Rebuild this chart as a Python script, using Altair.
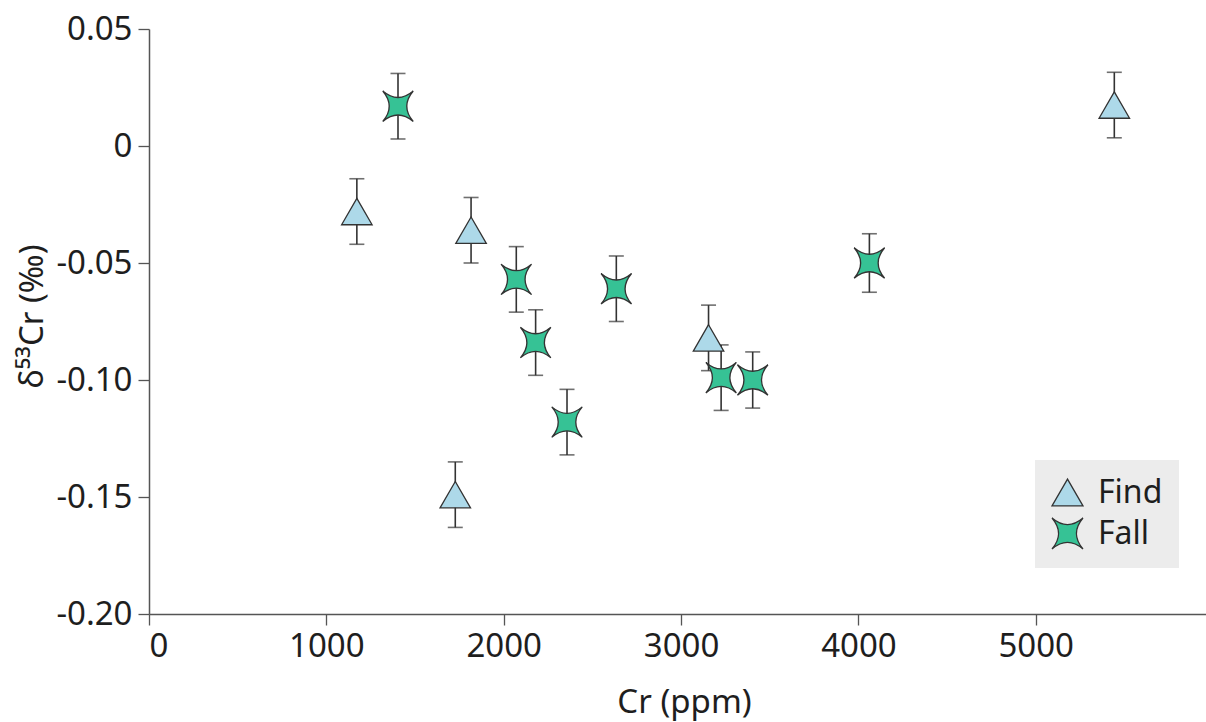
import altair as alt
import pandas as pd

# Cr concentration (ppm), δ53Cr (‰) and 2SE uncertainty for each meteorite group
find_cr = [1172, 1727, 1816, 3155, 5443]
find_d53 = [-0.028, -0.149, -0.036, -0.082, 0.0175]
find_err = [0.014, 0.014, 0.014, 0.014, 0.014]

fall_cr = [1404, 2071, 2180, 2357, 2635, 3226, 3404, 4062]
fall_d53 = [0.017, -0.057, -0.084, -0.118, -0.061, -0.099, -0.100, -0.050]
fall_err = [0.014, 0.014, 0.014, 0.014, 0.014, 0.014, 0.012, 0.0125]

groups = ["Find", "Fall"]

rows = []
for cr, d, e in zip(find_cr, find_d53, find_err):
    rows.append({"type": "Find", "cr": cr, "d53": d, "lo": d - e, "hi": d + e})
for cr, d, e in zip(fall_cr, fall_d53, fall_err):
    rows.append({"type": "Fall", "cr": cr, "d53": d, "lo": d - e, "hi": d + e})
df = pd.DataFrame(rows)

FONT = "Noto Sans"
AXIS_COL = "#555555"
TEXT_COL = "#1e1e1e"
BAR_COL = "#333333"
EDGE_COL = "#333333"

# four-pointed star with concave edges, tips on the diagonals
STAR = "M-1,-1 Q0,-0.15 1,-1 Q0.15,0 1,1 Q0,0.15 -1,1 Q-0.15,0 -1,-1 Z"

x_enc = alt.X(
    "cr:Q",
    scale=alt.Scale(domain=[0, 5960], nice=False, zero=False),
    axis=alt.Axis(
        title="Cr (ppm)",
        values=[0, 1000, 2000, 3000, 4000, 5000],
        format="d",
        grid=False,
        tickSize=11,
        labelPadding=5,
        titleY=98,
        titleX=535,
        titleBaseline="alphabetic",
    ),
)
y_enc = alt.Y(
    "d53:Q",
    scale=alt.Scale(domain=[-0.2, 0.05], nice=False, zero=False),
    axis=alt.Axis(
        title="δ⁵³Cr (‰)",
        values=[-0.2, -0.15, -0.1, -0.05, 0, 0.05],
        labelExpr="datum.value == 0 ? '0' : replace(format(datum.value, '.2f'), '\u2212', '-')",
        grid=False,
        tickSize=11,
        labelPadding=6,
        titleX=-107,
        titleY=287,
        titleAngle=270,
        titleAlign="center",
        titleBaseline="alphabetic",
    ),
)

base = alt.Chart(df)

bars = base.mark_rule(color=BAR_COL, strokeWidth=1.6).encode(
    x=x_enc, y=alt.Y("lo:Q"), y2="hi:Q"
)
caps_lo = base.mark_tick(orient="horizontal", size=15, thickness=1.6, color=BAR_COL).encode(
    x="cr:Q", y="lo:Q"
)
caps_hi = base.mark_tick(orient="horizontal", size=15, thickness=1.6, color=BAR_COL).encode(
    x="cr:Q", y="hi:Q"
)

legend = alt.Legend(title=None)
points = base.mark_point(
    filled=True, size=930, strokeWidth=1.3, opacity=1, fillOpacity=1, strokeOpacity=1
).encode(
    x="cr:Q",
    y=y_enc,
    fill=alt.Fill(
        "type:N",
        scale=alt.Scale(domain=groups, range=["#add9e9", "#36c295"]),
        legend=legend,
    ),
    stroke=alt.Stroke(
        "type:N",
        scale=alt.Scale(domain=groups, range=[EDGE_COL, EDGE_COL]),
        legend=legend,
    ),
    shape=alt.Shape(
        "type:N",
        scale=alt.Scale(domain=groups, range=["triangle-up", STAR]),
        legend=legend,
    ),
)

chart = (
    alt.layer(bars, caps_lo, caps_hi, points)
    .properties(
        width=1057,
        height=585,
        autosize=alt.AutoSizeParams(type="none"),
        padding={"left": 149, "top": 29, "right": 0, "bottom": 108},
        background="white",
    )
    .configure_view(stroke=None)
    .configure_axis(
        domainColor=AXIS_COL,
        domainWidth=1.5,
        tickColor=AXIS_COL,
        tickWidth=1.3,
        labelFont=FONT,
        labelFontSize=33,
        labelColor=TEXT_COL,
        titleFont=FONT,
        titleFontSize=33,
        titleFontWeight="normal",
        titleColor=TEXT_COL,
    )
    .configure_legend(
        orient="none",
        legendX=886,
        legendY=431,
        fillColor="#ececec",
        padding=16,
        rowPadding=6,
        labelFont=FONT,
        labelFontSize=32,
        labelColor=TEXT_COL,
        labelOffset=14,
        symbolSize=960,
        symbolStrokeWidth=1.3,
        symbolOpacity=1,
    )
)

chart.save("out.html", embed_options={"renderer": "svg", "actions": False})
